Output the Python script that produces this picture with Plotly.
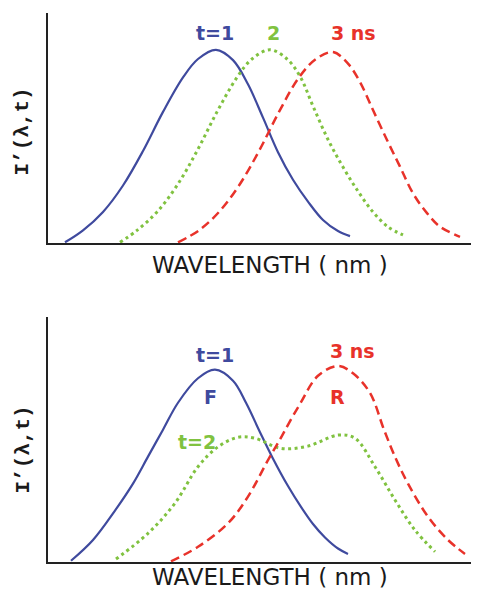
import plotly.graph_objects as go

# ---------------- data ----------------
# Top panel: t = 1, 2, 3 ns spectra
top_t1_x = [17, 35, 55, 75, 95, 115, 135, 150, 168, 185, 200, 215, 230, 245, 260, 275, 290, 302]
top_t1_y = [0.3, 5.5, 13.5, 25, 40, 57, 72, 80, 84, 79.5, 69, 54.5, 39.5, 27.5, 18, 10, 5.2, 3]

top_t2_x = [72, 89, 109, 129, 149, 169, 189, 204, 222, 239, 252, 265, 280, 295, 310, 325, 340, 355]
top_t2_y = [0.3, 5.5, 13.5, 25, 40, 57, 72, 80, 84, 80, 72.5, 59.5, 45, 33, 22.5, 13.5, 7, 3.5]

top_t3_x = [130, 151, 171, 191, 211, 231, 251, 268, 285, 300, 312, 325, 339, 352, 365, 379, 392, 412]
top_t3_y = [0.3, 5.5, 13.5, 25, 40, 57, 72, 80, 83, 78, 70, 57.8, 44.8, 33.2, 21.6, 13, 7.1, 2.7]

# Bottom panel: F (t=1), mixed (t=2), R (3 ns)
bot_t1_x = [23, 45, 67, 85, 100, 115, 130, 150, 167, 185, 198, 212, 224, 240, 253, 265, 277, 290, 300]
bot_t1_y = [0.5, 9, 21, 32, 43, 54, 65, 75, 78.5, 74, 65, 53, 43, 31, 22.5, 15.5, 10, 5.5, 3.3]

bot_t2_x = [68, 100, 127, 150, 170, 190, 207, 233, 260, 290, 307, 327, 347, 367, 387]
bot_t2_y = [1.2, 11.7, 24, 38.9, 47, 50.9, 50.5, 46.4, 47.3, 51.8, 50.5, 38.9, 25.3, 13, 4.2]

bot_t3_x = [123, 150, 180, 200, 220, 232, 240, 252, 270, 290, 305, 322, 336, 348, 360, 380, 400, 417]
bot_t3_y = [0.3, 6.2, 15.8, 26.7, 41.6, 50, 56, 64.5, 76, 80, 77, 69, 54, 42, 32, 18.5, 9, 3.3]

curve_labels_top = ["t=1", "2", "3 ns"]
curve_labels_bot = ["t=1", "3 ns", "F", "R", "t=2"]
x_title = "WAVELENGTH ( nm )"
y_title = "I\u2019(\u03bb,t)"

# ---------------- styles ----------------
BLUE = "#3f4a9e"
GREEN = "#80c240"
RED = "#e8322a"

# the page body has an 8px margin; size the figure so it ends at the window edge
PAGE_W, PAGE_H = 479, 592
OFF = 8
W, H = PAGE_W - OFF, PAGE_H - OFF


def px(x):  # page pixel x -> paper x
    return (x - OFF) / W


def py(y):  # page pixel y -> paper y
    return 1 - (y - OFF) / H


fig = go.Figure()


def add_curve(x, y, color, dash, width, xa, ya):
    fig.add_trace(go.Scatter(
        x=x, y=y, mode="lines", xaxis=xa, yaxis=ya,
        line=dict(color=color, width=width, dash=dash, shape="spline", smoothing=1.0),
        hoverinfo="skip", showlegend=False))


add_curve(top_t1_x, top_t1_y, BLUE, "solid", 2.2, "x", "y")
add_curve(top_t2_x, top_t2_y, GREEN, "3px,3.5px", 3, "x", "y")
add_curve(top_t3_x, top_t3_y, RED, "9px,5px", 2.5, "x", "y")

add_curve(bot_t1_x, bot_t1_y, BLUE, "solid", 2.2, "x2", "y2")
add_curve(bot_t2_x, bot_t2_y, GREEN, "3px,3.5px", 3, "x2", "y2")
add_curve(bot_t3_x, bot_t3_y, RED, "9px,5px", 2.5, "x2", "y2")

axis_common = dict(showgrid=False, zeroline=False, showticklabels=False, ticks="",
                   showline=True, linewidth=2, linecolor="#222", fixedrange=True)

fig.update_layout(
    width=W, height=H,
    margin=dict(l=0, r=0, t=0, b=0),
    paper_bgcolor="white", plot_bgcolor="white",
    showlegend=False,
    xaxis=dict(domain=[px(48), 1], range=[0, 431], anchor="y", **axis_common),
    yaxis=dict(domain=[py(243), py(13)], range=[0, 100], anchor="x", **axis_common),
    xaxis2=dict(domain=[px(48), 1], range=[0, 431], anchor="y2", **axis_common),
    yaxis2=dict(domain=[py(562), py(317)], range=[0, 100], anchor="x2", **axis_common),
)

lab_font = dict(family="DejaVu Sans", size=19, weight="bold")


def lab(text, x, y, color, xr, yr):
    fig.add_annotation(text=text, x=x, y=y, xref=xr, yref=yr, showarrow=False,
                       xanchor="center", yanchor="middle",
                       font=dict(color=color, **lab_font))


# top panel labels
lab(curve_labels_top[0], 167, 91.3, BLUE, "x", "y")
lab(curve_labels_top[1], 225, 91.3, GREEN, "x", "y")
lab(curve_labels_top[2], 305, 91.3, RED, "x", "y")

# bottom panel labels
lab(curve_labels_bot[0], 167, 84.5, BLUE, "x2", "y2")
lab(curve_labels_bot[1], 304, 86.0, RED, "x2", "y2")
lab(curve_labels_bot[2], 162, 67.5, BLUE, "x2", "y2")
lab(curve_labels_bot[3], 289.5, 67.5, RED, "x2", "y2")
lab(curve_labels_bot[4], 148.7, 48.8, GREEN, "x2", "y2")

# axis titles
xt_font = dict(family="DejaVu Sans", size=23, color="#1a1a1a")
fig.add_annotation(text=x_title, x=px(270), y=py(265), xref="paper", yref="paper",
                   showarrow=False, xanchor="center", yanchor="middle", font=xt_font)
fig.add_annotation(text=x_title, x=px(270), y=0, xref="paper", yref="paper",
                   showarrow=False, xanchor="center", yanchor="bottom", font=xt_font)
for cy in (132, 450):
    fig.add_annotation(text=y_title, x=px(22.5), y=py(cy), xref="paper", yref="paper",
                       showarrow=False, xanchor="center", yanchor="middle", textangle=-90,
                       font=dict(family="Liberation Mono", size=21, color="#1a1a1a", weight="bold"))

fig.write_html("out.html")
